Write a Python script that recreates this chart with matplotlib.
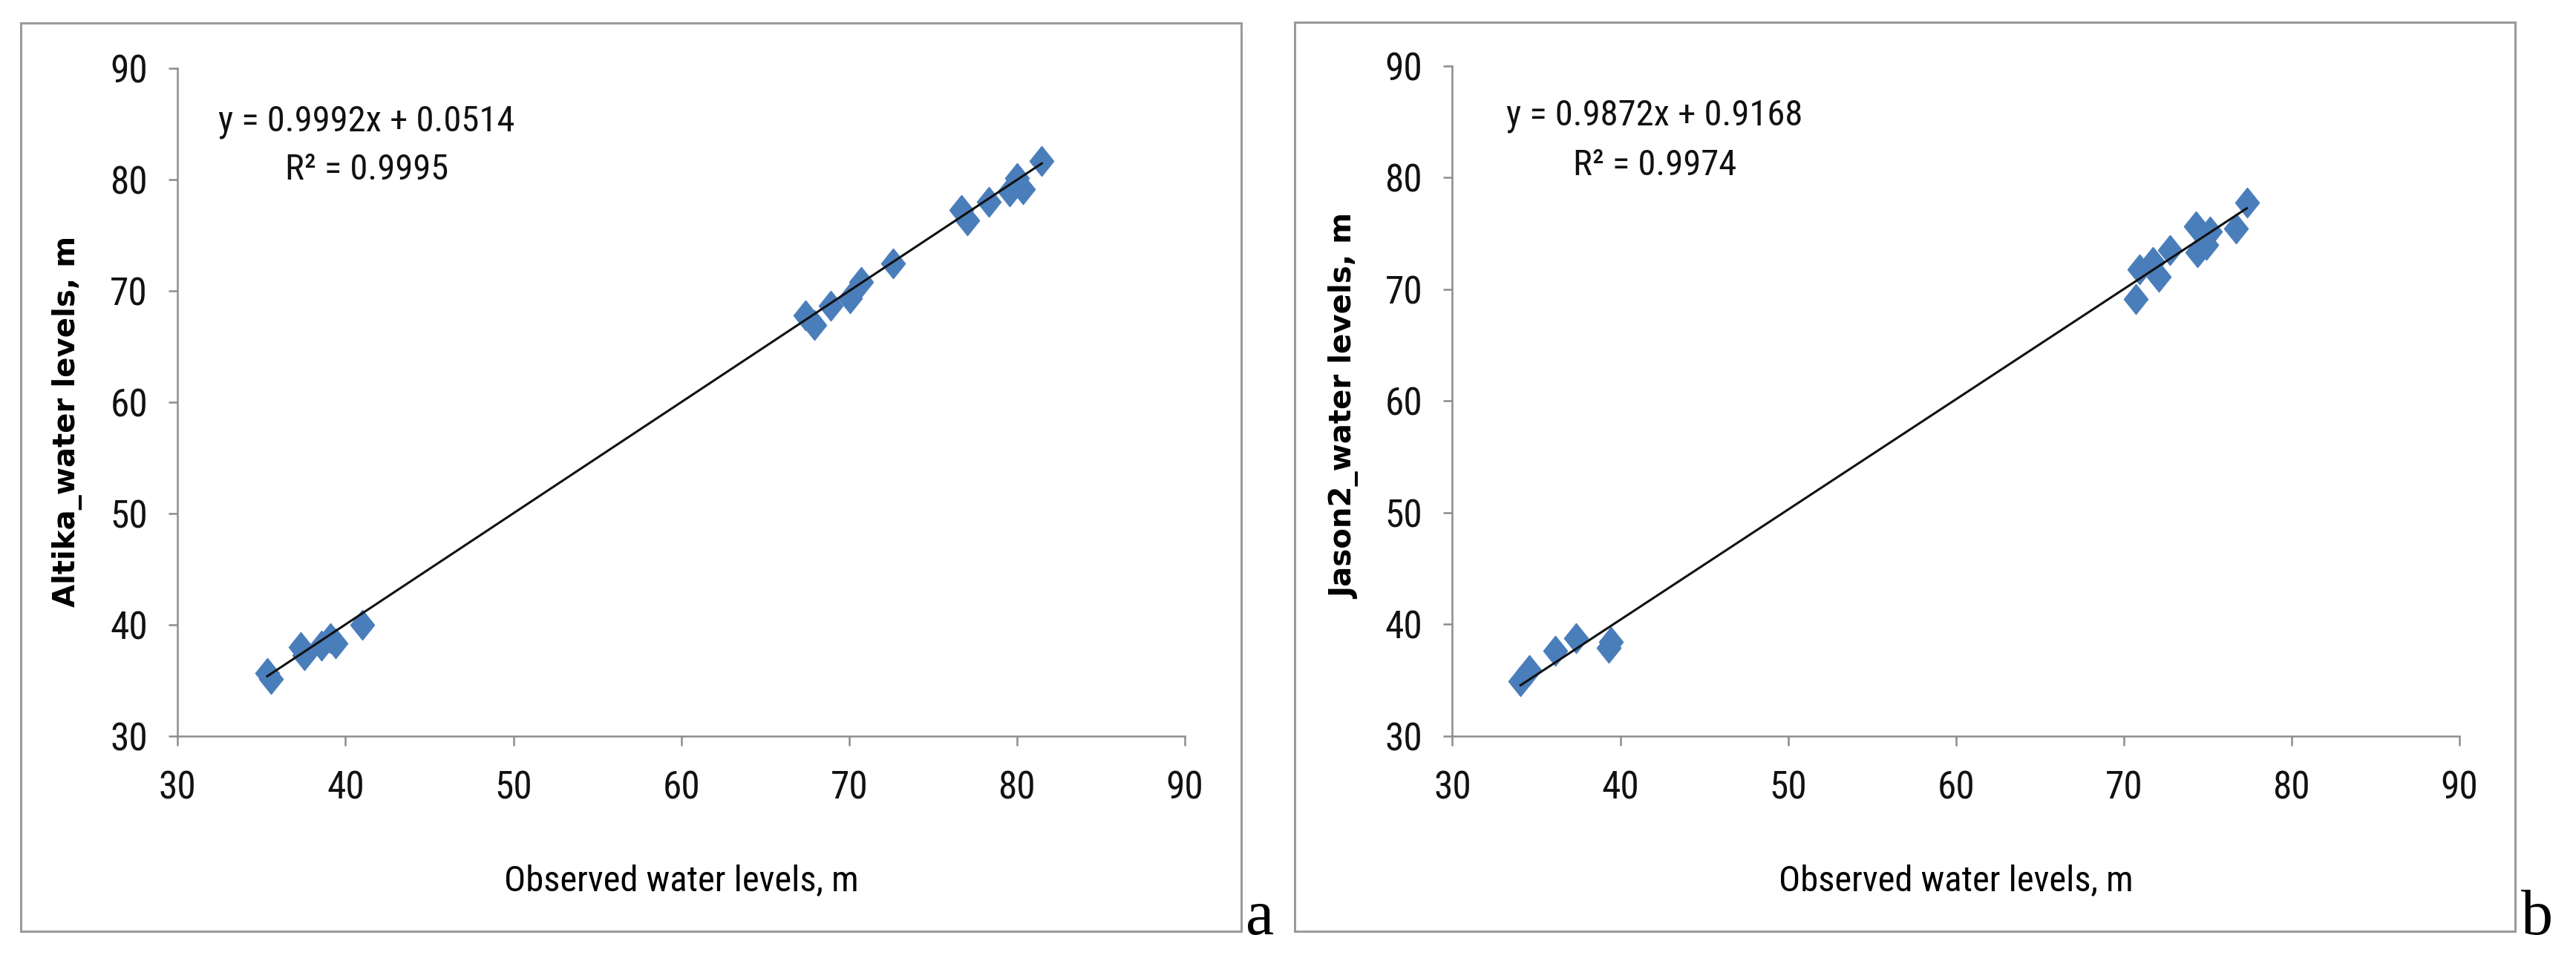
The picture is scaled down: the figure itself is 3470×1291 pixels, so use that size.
import numpy as np
import matplotlib.pyplot as plt
from matplotlib.patches import Rectangle

# observed vs satellite water levels (m)
altika_obs = [35.34, 35.56, 37.33, 37.55, 38.58, 39.10, 39.39, 40.99, 67.40, 67.92, 68.92,
              70.06, 70.72, 72.64, 76.69, 77.06, 78.31, 79.57, 80.01, 80.38, 81.48]
altika_sat = [35.67, 35.12, 38.00, 37.23, 38.12, 38.78, 38.34, 40.01, 67.81, 66.92, 68.65,
              69.36, 70.81, 72.47, 77.26, 76.36, 78.03, 78.93, 80.15, 79.15, 81.70]
jason_obs = [34.06, 34.58, 36.13, 37.38, 39.30, 39.44, 70.70, 70.92, 71.73, 72.10, 72.76,
             74.31, 74.38, 74.90, 75.12, 76.67, 77.33]
jason_sat = [34.89, 35.89, 37.66, 38.76, 37.88, 38.43, 69.11, 71.77, 72.43, 71.10, 73.53,
             75.64, 73.32, 73.98, 75.20, 75.42, 77.75]

fits = {'a': (0.9992, 0.0514, 0.9995), 'b': (0.9872, 0.9168, 0.9974)}
ylabels = {'a': 'Altika_water levels, m', 'b': 'Jason2_water levels, m'}
ticks = [30, 40, 50, 60, 70, 80, 90]

narrow = ['Liberation Sans Narrow', 'DejaVu Sans Condensed', 'Roboto Condensed',
          'Open Sans Condensed', 'Liberation Sans']
gray = '#8c8c8c'
blue = '#4a7ebb'
diamond = [(0, 1), (0.8, 0), (0, -1), (-0.8, 0), (0, 1)]

fig = plt.figure(figsize=(34.70, 12.91), dpi=100)

panels = [
    ('a', altika_obs, altika_sat, [0.06896, 0.23184, 0.39098, 0.69666],
     (0.00798, 0.02789, 0.47378, 0.94787), (41.25, 84.35, 80.0), (-0.0948, 0.471), 0.4836),
    ('b', jason_obs, jason_sat, [0.56383, 0.23176, 0.39093, 0.69938],
     (0.50256, 0.02789, 0.47381, 0.94918), (42.05, 84.7, 80.2), (-0.0914, 0.4926), 0.9787),
]

for key, xs, ys, rect, border, eqpos, ylpos, letter_x in panels:
    fig.add_artist(Rectangle(border[:2], border[2], border[3], transform=fig.transFigure,
                             fill=False, edgecolor='#9a9a9a', lw=2.2))
    ax = fig.add_axes(rect)
    ax.plot(xs, ys, linestyle='none', marker=diamond, ms=29, color=blue, mec=blue, zorder=2)

    slope, icpt, r2 = fits[key]
    xl = np.array([min(xs), max(xs)])
    ax.plot(xl, slope * xl + icpt, color='#111111', lw=2.2, zorder=3)

    ax.set_xlim(30, 90)
    ax.set_ylim(30, 90)
    ax.set_xticks(ticks)
    ax.set_yticks(ticks)
    for s in ['top', 'right']:
        ax.spines[s].set_visible(False)
    for s in ['left', 'bottom']:
        ax.spines[s].set_color(gray)
        ax.spines[s].set_linewidth(1.8)
    ax.tick_params(axis='both', direction='out', length=9, width=1.8, color=gray,
                   labelsize=37, labelcolor='#111111')
    ax.tick_params(axis='y', pad=20)
    ax.tick_params(axis='x', pad=24)
    for lab in ax.get_xticklabels() + ax.get_yticklabels():
        lab.set_family(narrow)
        lab.set_fontstretch('condensed')

    ax.text(eqpos[0], eqpos[1], 'y = %.4fx + %.4f' % (slope, icpt), ha='center',
            va='baseline', fontsize=35, family=narrow, fontstretch='condensed',
            color='#111111')
    ax.text(eqpos[0], eqpos[2], 'R² = %.4f' % r2, ha='center', va='baseline',
            fontsize=35, family=narrow, fontstretch='condensed', color='#111111')

    ax.set_xlabel('Observed water levels, m', fontsize=35, family=narrow,
                  fontstretch='condensed', labelpad=56)
    ax.set_ylabel(ylabels[key], fontsize=29, fontweight='bold', family='DejaVu Sans')
    ax.yaxis.set_label_coords(*ylpos)

    fig.text(letter_x, 1 - 1259 / 1291, key, fontsize=62, family='Liberation Serif',
             ha='left', va='baseline')

fig.savefig('out.png', dpi=100)
